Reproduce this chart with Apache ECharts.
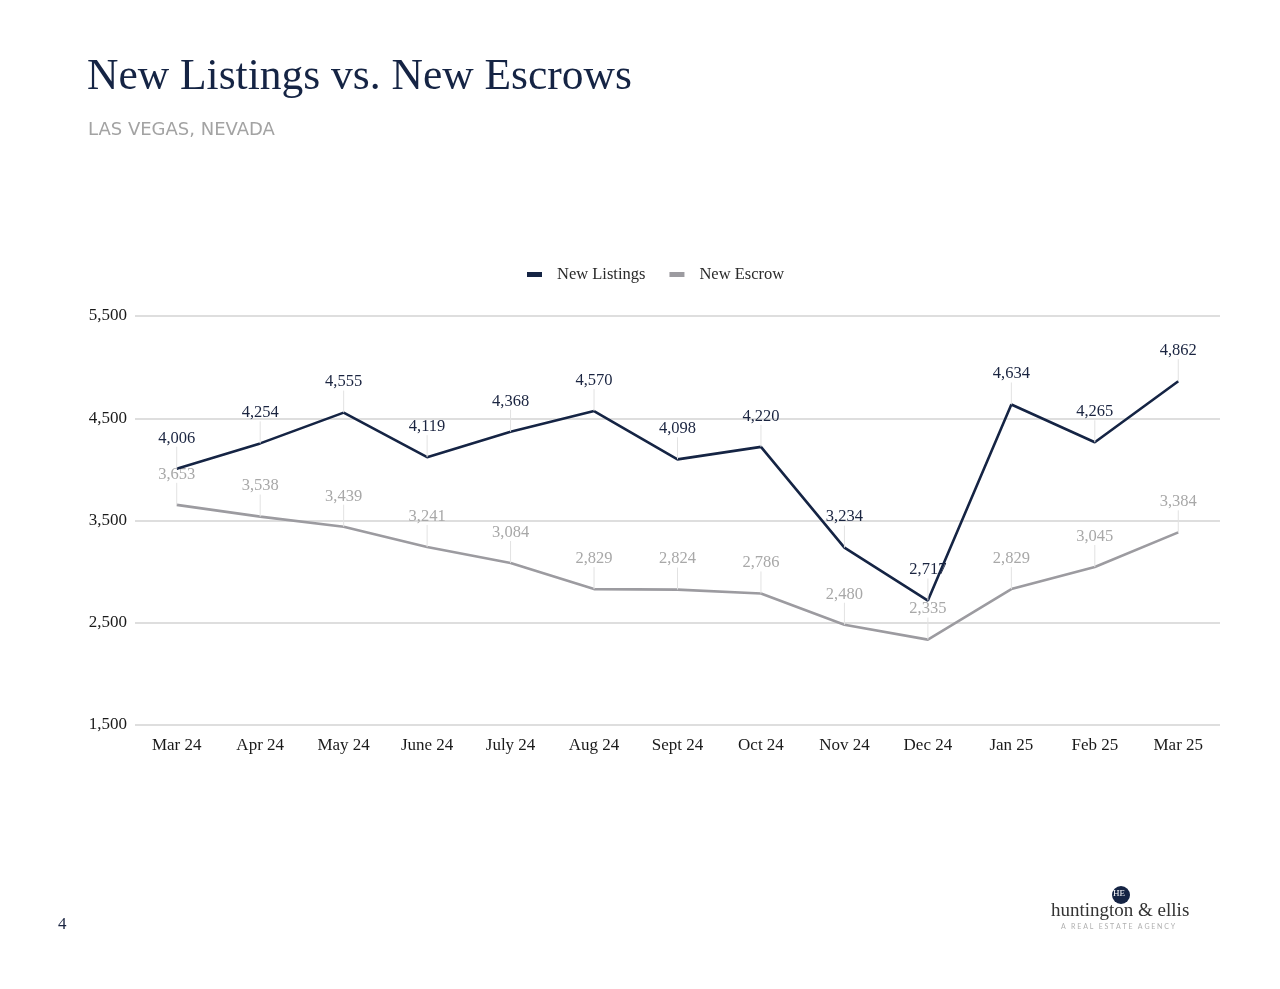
<!DOCTYPE html>
<html><head><meta charset="utf-8">
<script src="https://cdn.jsdelivr.net/npm/echarts@6/dist/echarts.min.js"></script>
<style>html,body{margin:0;padding:0;background:#fff}#c{width:1280px;height:989px}</style>
</head><body><div id="c"></div>
<script>
const categories = ['Mar 24','Apr 24','May 24','June 24','July 24','Aug 24','Sept 24','Oct 24','Nov 24','Dec 24','Jan 25','Feb 25','Mar 25'];
const newListings = [4006,4254,4555,4119,4368,4570,4098,4220,3234,2717,4634,4265,4862];
const newEscrow = [3653,3538,3439,3241,3084,2829,2824,2786,2480,2335,2829,3045,3384];
const yTicks = [1500,2500,3500,4500,5500];

const serif = '"Liberation Serif", "DejaVu Serif", serif';
const navy = '#152444';
const gray = '#9c9ba0';
const fmt = v => v.toLocaleString('en-US');
const spaced = s => s.split('').join(' ');

const chart = echarts.init(document.getElementById('c'));
chart.setOption({
  backgroundColor: '#fff',
  animation: false,
  title: [
    {text: 'New Listings vs. New Escrows', left: 82, top: 51,
     textStyle: {fontFamily: serif, fontSize: 43.5, fontWeight: 'normal', color: navy}},
    {text: 'LAS VEGAS, NEVADA', left: 83, top: 116,
     textStyle: {fontFamily: '"DejaVu Sans", sans-serif', fontSize: 18, fontWeight: 'normal', color: '#a3a3a3'}}
  ],
  legend: {
    top: 261, left: 522, itemGap: 24, itemWidth: 15, itemHeight: 5,
    icon: 'rect',
    textStyle: {fontFamily: serif, fontSize: 16.5, color: '#2a2a2a', padding: [0, 0, 0, 10]},
    data: ['New Listings', 'New Escrow']
  },
  grid: {left: 135, right: 60, top: 316, bottom: 264},
  xAxis: {
    type: 'category', data: categories, boundaryGap: true,
    axisLine: {show: false}, axisTick: {show: false},
    axisLabel: {fontFamily: serif, fontSize: 17, color: '#1a1a1a', margin: 12}
  },
  yAxis: {
    type: 'value', min: 1500, max: 5500, interval: 1000,
    axisLabel: {fontFamily: serif, fontSize: 17, color: '#1a1a1a', margin: 8,
      formatter: v => yTicks.includes(v) ? fmt(v) : ''},
    splitLine: {lineStyle: {color: '#d3d3d3', width: 1.5}},
    axisLine: {show: false}, axisTick: {show: false}
  },
  series: [
    {name: 'New Listings', type: 'line', data: newListings, showSymbol: true, symbol: 'circle', symbolSize: 0.1,
     itemStyle: {color: navy}, lineStyle: {color: navy, width: 2.6}, z: 3,
     label: {show: true, position: 'top', distance: 2, formatter: p => fmt(p.value),
       fontFamily: serif, fontSize: 16.5, color: '#1a2440'},
     labelLayout: {dy: -20},
     labelLine: {show: true, lineStyle: {color: '#e2e2e2', width: 1}}
    },
    {name: 'New Escrow', type: 'line', data: newEscrow, showSymbol: true, symbol: 'circle', symbolSize: 0.1,
     itemStyle: {color: gray}, lineStyle: {color: gray, width: 2.6}, z: 2,
     label: {show: true, position: 'top', distance: 2, formatter: p => fmt(p.value),
       fontFamily: serif, fontSize: 16.5, color: '#a8a8a8'},
     labelLayout: {dy: -20},
     labelLine: {show: true, lineStyle: {color: '#e2e2e2', width: 1}}
    }
  ],
  graphic: [
    {type: 'text', left: 58, top: 916, style: {text: '4', font: '17px ' + serif, fill: '#1a2440'}},
    {type: 'circle', shape: {cx: 1121, cy: 895, r: 9}, style: {fill: navy}},
    {type: 'text', left: 1113, top: 889, style: {text: 'HE', font: '9px ' + serif, fill: '#fff'}},
    {type: 'text', left: 1051, top: 902, style: {text: 'huntington & ellis', font: '19px ' + serif, fill: '#333'}},
    {type: 'text', left: 1061, top: 923, style: {text: spaced('A REAL ESTATE AGENCY'), font: '7px Lato, sans-serif', fill: '#b0b0b0'}}
  ]
});
</script></body></html>
